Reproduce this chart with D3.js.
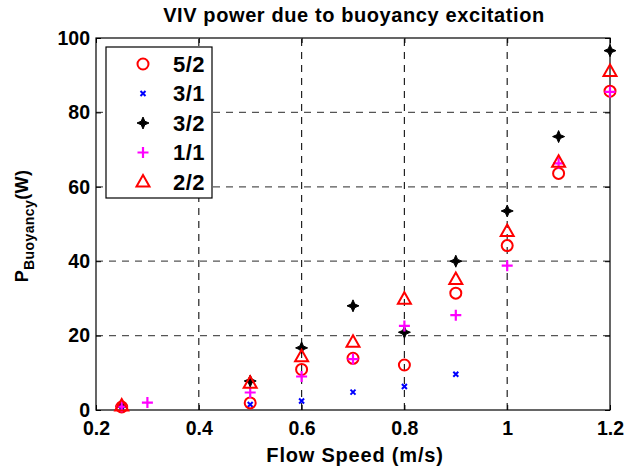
<!DOCTYPE html>
<html>
<head>
<meta charset="utf-8">
<script src="https://cdn.jsdelivr.net/npm/d3@7"></script>
<style>
  body { margin: 0; background: #fff; }
  svg { font-family: "Liberation Sans", Arial, sans-serif; font-weight: bold; }
</style>
</head>
<body>
<svg width="636" height="467"></svg>
<script>
var width = 636;
var height = 467;
var margin = {top: 38, right: 26, bottom: 57, left: 96};

var xTicks = [0.2, 0.4, 0.6, 0.8, 1, 1.2];
var yTicks = [0, 20, 40, 60, 80, 100];

// series: speed (m/s) -> power (W)
var s52x = [0.25, 0.5, 0.6, 0.7, 0.8, 0.9, 1.0, 1.1, 1.2];
var s52y = [0.8, 1.9, 10.9, 13.9, 12.1, 31.4, 44.2, 63.6, 85.7];
var s31x = [0.25, 0.5, 0.6, 0.7, 0.8, 0.9];
var s31y = [0.3, 1.5, 2.4, 4.8, 6.3, 9.6];
var s32x = [0.25, 0.5, 0.6, 0.7, 0.8, 0.9, 1.0, 1.1, 1.2];
var s32y = [1.0, 7.8, 16.7, 28.0, 20.9, 40.0, 53.5, 73.5, 96.6];
var s11x = [0.25, 0.3, 0.5, 0.6, 0.7, 0.8, 0.9, 1.0, 1.1, 1.2];
var s11y = [0.9, 2.0, 4.7, 9.0, 13.7, 22.6, 25.5, 38.8, 66.3, 85.5];
var s22x = [0.25, 0.5, 0.6, 0.7, 0.8, 0.9, 1.0, 1.1, 1.2];
var s22y = [1.1, 7.2, 14.3, 18.2, 29.8, 35.1, 48.0, 66.6, 91.0];

var names = ['5/2', '3/1', '3/2', '1/1', '2/2'];
var series = [
  {name: names[0], xs: s52x, ys: s52y, marker: 'circle'},
  {name: names[1], xs: s31x, ys: s31y, marker: 'cross'},
  {name: names[2], xs: s32x, ys: s32y, marker: 'star'},
  {name: names[3], xs: s11x, ys: s11y, marker: 'plus'},
  {name: names[4], xs: s22x, ys: s22y, marker: 'triangle'}
];

var svg = d3.select('svg');

var xScale = d3.scaleLinear()
  .domain([0.2, 1.2])
  .range([margin.left, width - margin.right]);

var yScale = d3.scaleLinear()
  .domain([0, 100])
  .range([height - margin.bottom, margin.top]);

var x0 = margin.left, x1 = width - margin.right;
var y0 = height - margin.bottom, y1 = margin.top;

// grid
var grid = svg.append('g');
grid.selectAll('.vg')
  .data(xTicks.slice(1, -1))
  .enter()
  .append('line')
  .attr('x1', d => xScale(d)).attr('x2', d => xScale(d))
  .attr('y1', y0).attr('y2', y1)
  .attr('stroke', '#222')
  .attr('stroke-width', 1.2)
  .attr('stroke-dasharray', '7,6');
grid.selectAll('.hg')
  .data(yTicks.slice(1, -1))
  .enter()
  .append('line')
  .attr('x1', x0).attr('x2', x1)
  .attr('y1', d => yScale(d)).attr('y2', d => yScale(d))
  .attr('stroke', '#555')
  .attr('stroke-width', 1.2)
  .attr('stroke-dasharray', '7,6');

// axes with inward ticks on all sides
var xAxis = d3.axisBottom(xScale).tickValues(xTicks).tickSize(-5).tickSizeOuter(0)
  .tickFormat(d3.format('~g'));
var yAxis = d3.axisLeft(yScale).tickValues(yTicks).tickSize(-5).tickSizeOuter(0);

svg.append('g')
  .attr('transform', 'translate(0,' + y0 + ')')
  .call(xAxis)
  .call(g => g.selectAll('text').attr('dy', '1.15em'));

svg.append('g')
  .attr('transform', 'translate(' + x0 + ',0)')
  .call(yAxis)
  .call(g => g.selectAll('text').attr('x', -6));

svg.append('g')
  .attr('transform', 'translate(0,' + y1 + ')')
  .call(d3.axisTop(xScale).tickValues(xTicks).tickSize(-5).tickSizeOuter(0).tickFormat(''));

svg.append('g')
  .attr('transform', 'translate(' + x1 + ',0)')
  .call(d3.axisRight(yScale).tickValues(yTicks).tickSize(-5).tickSizeOuter(0).tickFormat(''));

svg.selectAll('.domain').remove();
svg.selectAll('.tick line').attr('stroke', '#000').attr('stroke-width', 1);
svg.selectAll('.tick text')
  .attr('fill', '#000')
  .style('font-size', '19.5px')
  .style('font-family', '"Liberation Sans", Arial, sans-serif')
  .style('font-weight', 'bold');

svg.append('rect')
  .attr('x', x0).attr('y', y1)
  .attr('width', x1 - x0).attr('height', y0 - y1)
  .attr('fill', 'none')
  .attr('stroke', '#000')
  .attr('stroke-width', 1.2);

// markers
function drawMarker(g, type) {
  if (type === 'circle') {
    g.append('circle').attr('r', 5.5)
      .attr('fill', 'none').attr('stroke', '#ff0000').attr('stroke-width', 2);
  } else if (type === 'cross') {
    g.append('path').attr('d', 'M-2.5,-2.5L2.5,2.5M-2.5,2.5L2.5,-2.5')
      .attr('stroke', '#0000ff').attr('stroke-width', 2);
  } else if (type === 'star') {
    g.append('path')
      .attr('d', 'M0,-6L1.8,-1.8L6,0L1.8,1.8L0,6L-1.8,1.8L-6,0L-1.8,-1.8Z')
      .attr('fill', '#000').attr('stroke', '#000').attr('stroke-width', 1);
  } else if (type === 'plus') {
    g.append('path').attr('d', 'M-5.5,0L5.5,0M0,-5.5L0,5.5')
      .attr('stroke', '#ff00ff').attr('stroke-width', 2.2);
  } else if (type === 'triangle') {
    g.append('path').attr('d', 'M0,-7L6.5,4.5L-6.5,4.5Z')
      .attr('fill', 'none').attr('stroke', '#ff0000').attr('stroke-width', 2);
  }
}

var order = [2, 1, 0, 3, 4];
order.forEach(function(i) {
  var s = series[i];
  var pts = s.xs.map((x, j) => ({x: x, y: s.ys[j]}));
  svg.append('g')
    .selectAll('g')
    .data(pts)
    .enter()
    .append('g')
    .attr('transform', d => 'translate(' + xScale(d.x) + ',' + yScale(d.y) + ')')
    .each(function() { drawMarker(d3.select(this), s.marker); });
});

// legend
var legend = svg.append('g');
legend.append('rect')
  .attr('x', 106).attr('y', 47)
  .attr('width', 106).attr('height', 151)
  .attr('fill', '#fff')
  .attr('stroke', '#000')
  .attr('stroke-width', 1.2);
series.forEach(function(s, i) {
  var yy = 64 + i * 29.5;
  var g = legend.append('g').attr('transform', 'translate(143,' + yy + ')');
  drawMarker(g, s.marker);
  legend.append('text')
    .attr('x', 173).attr('y', yy)
    .attr('dy', '0.36em')
    .style('font-size', '22px')
    .style('letter-spacing', '0.4px')
    .text(s.name);
});

// title and labels
svg.append('text')
  .attr('x', 354)
  .attr('y', 22)
  .style('text-anchor', 'middle')
  .style('font-size', '20px')
  .style('letter-spacing', '0.6px')
  .text('VIV power due to buoyancy excitation');

svg.append('text')
  .attr('x', 355)
  .attr('y', 462)
  .style('text-anchor', 'middle')
  .style('font-size', '20px')
  .style('letter-spacing', '0.8px')
  .text('Flow Speed (m/s)');

var yl = svg.append('text')
  .attr('transform', 'translate(28,226) rotate(-90)')
  .style('text-anchor', 'middle')
  .style('font-size', '18px')
  .style('letter-spacing', '0.4px');
yl.append('tspan').text('P');
yl.append('tspan').attr('dy', 6).style('font-size', '14px').text('Buoyancy');
yl.append('tspan').attr('dy', -6).text('(W)');
</script>
</body>
</html>
